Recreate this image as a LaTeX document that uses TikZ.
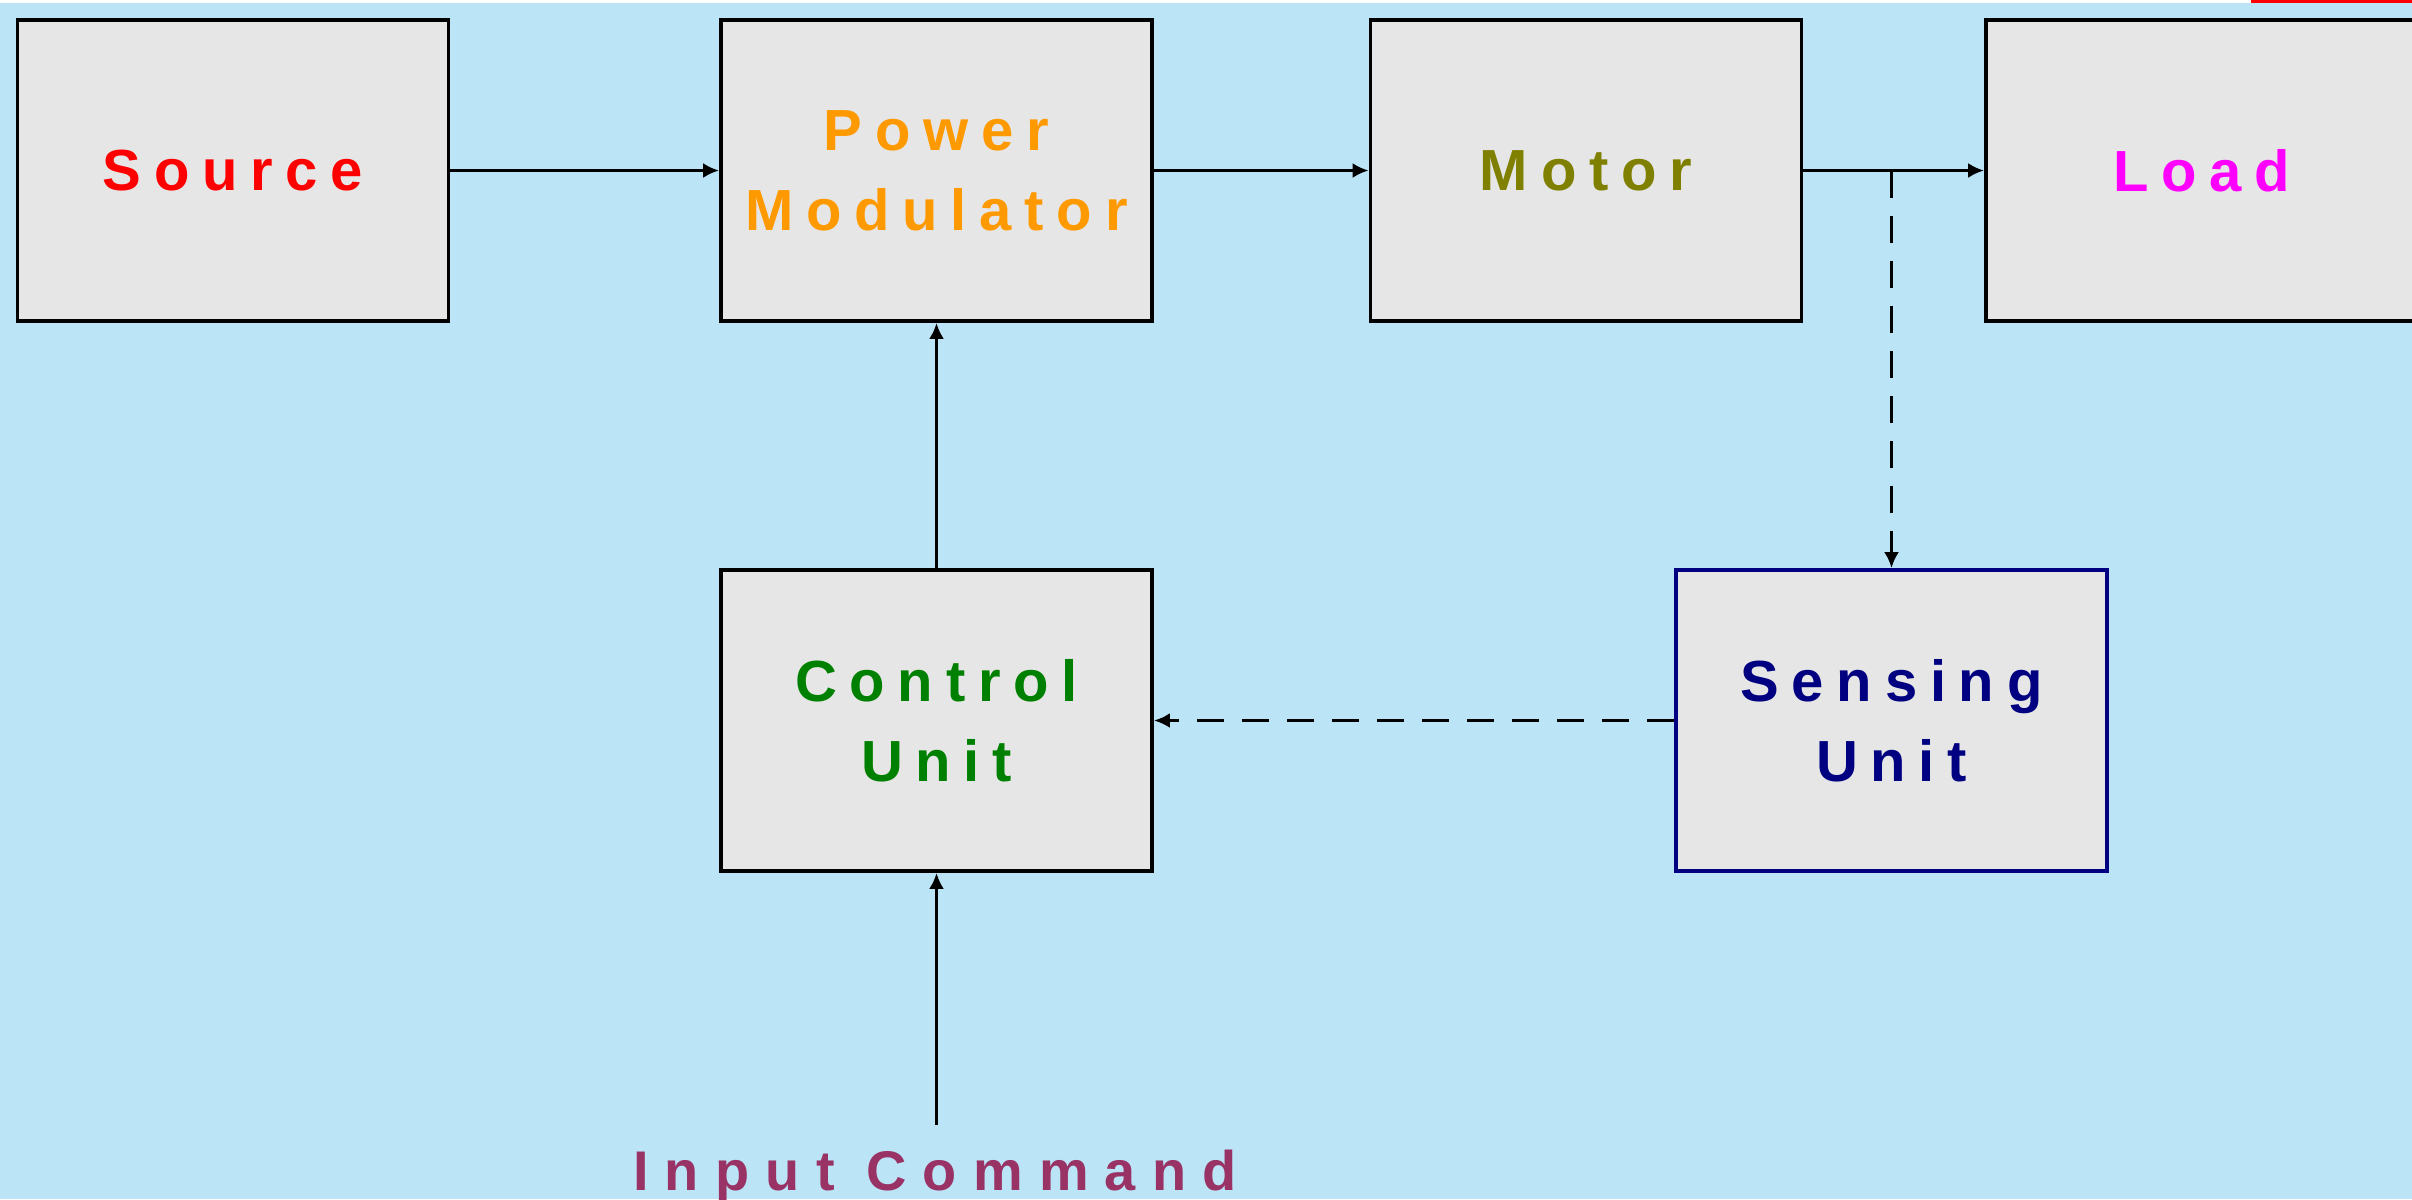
\documentclass[tikz,border=0pt]{standalone}
\usepackage{fontspec}
\setmainfont{Liberation Sans}[LetterSpace=22]
\newfontfamily\inputfont{Liberation Sans}[LetterSpace=29]
\usetikzlibrary{arrows.meta}
\definecolor{bgblue}{RGB}{188,228,247}
\definecolor{boxgray}{RGB}{230,230,230}
\definecolor{cSource}{RGB}{255,0,0}
\definecolor{cPower}{RGB}{255,153,0}
\definecolor{cMotor}{RGB}{128,128,0}
\definecolor{cLoad}{RGB}{255,0,255}
\definecolor{cControl}{RGB}{0,128,0}
\definecolor{cSensing}{RGB}{0,0,128}
\definecolor{cInput}{RGB}{153,51,102}
\tikzset{
  blockbox/.style={draw=black, fill=boxgray, line width=0.38mm, minimum width=43.1mm, minimum height=30.1mm,
    inner sep=0pt, align=center, font=\fontsize{16.5pt}{22.8pt}\selectfont\bfseries},
  conn/.style={line width=0.35mm, -{Latex[length=1.6mm,width=1.5mm]}},
  dashconn/.style={conn, dash pattern=on 2.7mm off 1.8mm}
}
\begin{document}
\begin{tikzpicture}[x=0.1mm,y=-0.1mm]
\useasboundingbox (0,0) rectangle (2412,1199);
\fill[bgblue] (0,0) rectangle (2412,1199);
\fill[white] (0,0) rectangle (2251,3);
\fill[red] (2251,0) rectangle (2412,3);
\begin{scope}
\clip (0,0) rectangle (2412,1199);
\node[blockbox, text=cSource] (src) at (233,170.5) {Source};
\node[blockbox, text=cPower] (pm) at (936.5,170.5) {Power\\Modulator};
\node[blockbox, text=cMotor] (mot) at (1586,170.5) {Motor};
\node[blockbox, text=cLoad] (load) at (2201.5,170.5) {Load};
\node[blockbox, text=cControl] (ctl) at (936.5,720.5) {Control\\Unit};
\node[blockbox, draw=cSensing, text=cSensing] (sen) at (1891.5,720.5) {Sensing\\Unit};
\end{scope}
\node[anchor=base, inner sep=0pt, text=cInput, font=\inputfont\fontsize{15.9pt}{19pt}\selectfont\bfseries] (inp) at (935,1190) {Input Command};
\coordinate (inptop) at (936.5,1125);
\coordinate (branch) at (sen.center |- mot.east);
\draw[conn] (src.east) -- (pm.west);
\draw[conn] (pm.east) -- (mot.west);
\draw[conn] (mot.east) -- (load.west);
\draw[dashconn] (branch) -- (sen.north);
\draw[dashconn] (sen.west) -- (ctl.east);
\draw[conn] (ctl.north) -- (pm.south);
\draw[conn] (inptop) -- (ctl.south);
\end{tikzpicture}
\end{document}
